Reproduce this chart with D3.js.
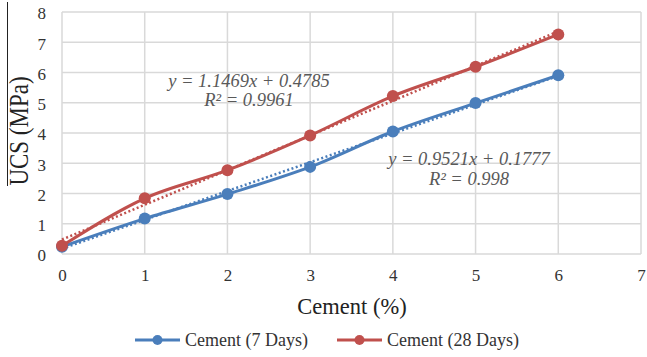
<!DOCTYPE html>
<html>
<head>
<meta charset="utf-8">
<script src="https://cdn.jsdelivr.net/npm/d3@7"></script>
<style>
  html, body { margin: 0; padding: 0; background: #fff; }
  svg { display: block; }
</style>
</head>
<body>
<svg id="chart" width="647" height="357"></svg>
<script>
// Cement content (%) and unconfined compressive strength (MPa)
const cement = [0, 1, 2, 3, 4, 5, 6];
const ucs7 = [0.24, 1.17, 1.98, 2.88, 4.05, 4.99, 5.91];
const ucs28 = [0.27, 1.84, 2.77, 3.92, 5.22, 6.19, 7.26];
const seriesNames = ["Cement (7 Days)", "Cement (28 Days)"];
// Linear trendlines: slope, intercept, R²
const slopes = [0.9521, 1.1469];
const intercepts = [0.1777, 0.4785];
const r2 = ["0.998", "0.9961"];
const xTicks = [0, 1, 2, 3, 4, 5, 6, 7];
const yTicks = [0, 1, 2, 3, 4, 5, 6, 7, 8];

const colors = ["#4a7ebb", "#c0504d"];
const FONT = "Liberation Serif";
const svg = d3.select("#chart");

const x = d3.scaleLinear().domain([0, 7]).range([62, 641]);
const y = d3.scaleLinear().domain([0, 8]).range([254, 12]);

// gridlines
const grid = svg.append("g");
grid.selectAll("line.v").data(xTicks).enter().append("line")
  .attr("x1", d => x(d)).attr("x2", d => x(d))
  .attr("y1", y(8)).attr("y2", y(0))
  .attr("stroke", "#d9d9d9").attr("stroke-width", 1.5);
grid.selectAll("line.h").data(yTicks).enter().append("line")
  .attr("x1", x(0)).attr("x2", x(7))
  .attr("y1", d => y(d)).attr("y2", d => y(d))
  .attr("stroke", "#d9d9d9").attr("stroke-width", 1.5);

// axes (tick labels only)
const xAxis = svg.append("g").attr("transform", `translate(0,${y(0)})`)
  .call(d3.axisBottom(x).tickValues(xTicks).tickSize(0).tickPadding(15).tickFormat(d3.format("d")));
const yAxis = svg.append("g").attr("transform", `translate(${x(0)},1.5)`)
  .call(d3.axisLeft(y).tickValues(yTicks).tickSize(0).tickPadding(16).tickFormat(d3.format("d")));
[xAxis, yAxis].forEach(a => {
  a.attr("font-family", FONT).attr("font-size", 17);
  a.select(".domain").remove();
  a.selectAll("text").attr("fill", "#333");
});

// trendlines (dotted)
const data = [ucs7, ucs28];
slopes.forEach((m, i) => {
  svg.append("line")
    .attr("x1", x(0)).attr("y1", y(intercepts[i]))
    .attr("x2", x(6)).attr("y2", y(m * 6 + intercepts[i]))
    .attr("stroke", colors[i]).attr("stroke-width", 2.5)
    .attr("stroke-dasharray", "2,2.5");
});

// series lines and markers
const line = d3.line().x((d, i) => x(cement[i])).y(d => y(d)).curve(d3.curveMonotoneX);
data.forEach((vals, i) => {
  svg.append("path").datum(vals).attr("d", line)
    .attr("fill", "none").attr("stroke", colors[i]).attr("stroke-width", 3);
  svg.selectAll(null).data(vals).enter().append("circle")
    .attr("cx", (d, j) => x(cement[j])).attr("cy", d => y(d))
    .attr("r", 6).attr("fill", colors[i]);
});

// trendline equations
const fmt = v => v.toFixed(4);
const eqPos = [[469, 164.5, 184.5], [249, 86.5, 106]];
slopes.forEach((m, i) => {
  const g = svg.append("g").attr("text-anchor", "middle").attr("font-family", FONT)
    .attr("font-size", 18.5).attr("font-style", "italic").attr("fill", "#595959");
  g.append("text").attr("x", eqPos[i][0]).attr("y", eqPos[i][1])
    .text(`y = ${fmt(m)}x + ${fmt(intercepts[i])}`);
  g.append("text").attr("x", eqPos[i][0]).attr("y", eqPos[i][2])
    .text(`R² = ${r2[i]}`);
});

// axis titles
svg.append("text").attr("x", 352).attr("y", 313.5).attr("text-anchor", "middle")
  .attr("font-family", FONT).attr("font-size", 22.5).attr("fill", "#222")
  .text("Cement (%)");
svg.append("text").attr("transform", "translate(28,131) rotate(-90) scale(1,1.2)")
  .attr("text-anchor", "middle").attr("font-family", FONT).attr("font-size", 23).attr("fill", "#222")
  .text("UCS (MPa)");
svg.append("line").attr("x1", 7.5).attr("x2", 7.5).attr("y1", 2).attr("y2", 186)
  .attr("stroke", "#222").attr("stroke-width", 1);

// legend
const legendX = [135, 337];
seriesNames.forEach((name, i) => {
  const g = svg.append("g").attr("transform", `translate(${legendX[i]},340)`);
  g.append("line").attr("x1", 0).attr("x2", 45).attr("stroke", colors[i]).attr("stroke-width", 3);
  g.append("circle").attr("cx", 22.5).attr("r", 5).attr("fill", colors[i]);
  g.append("text").attr("x", 50).attr("y", 6).attr("font-family", FONT).attr("font-size", 18)
    .attr("fill", "#333").text(name);
});
</script>
</body>
</html>
